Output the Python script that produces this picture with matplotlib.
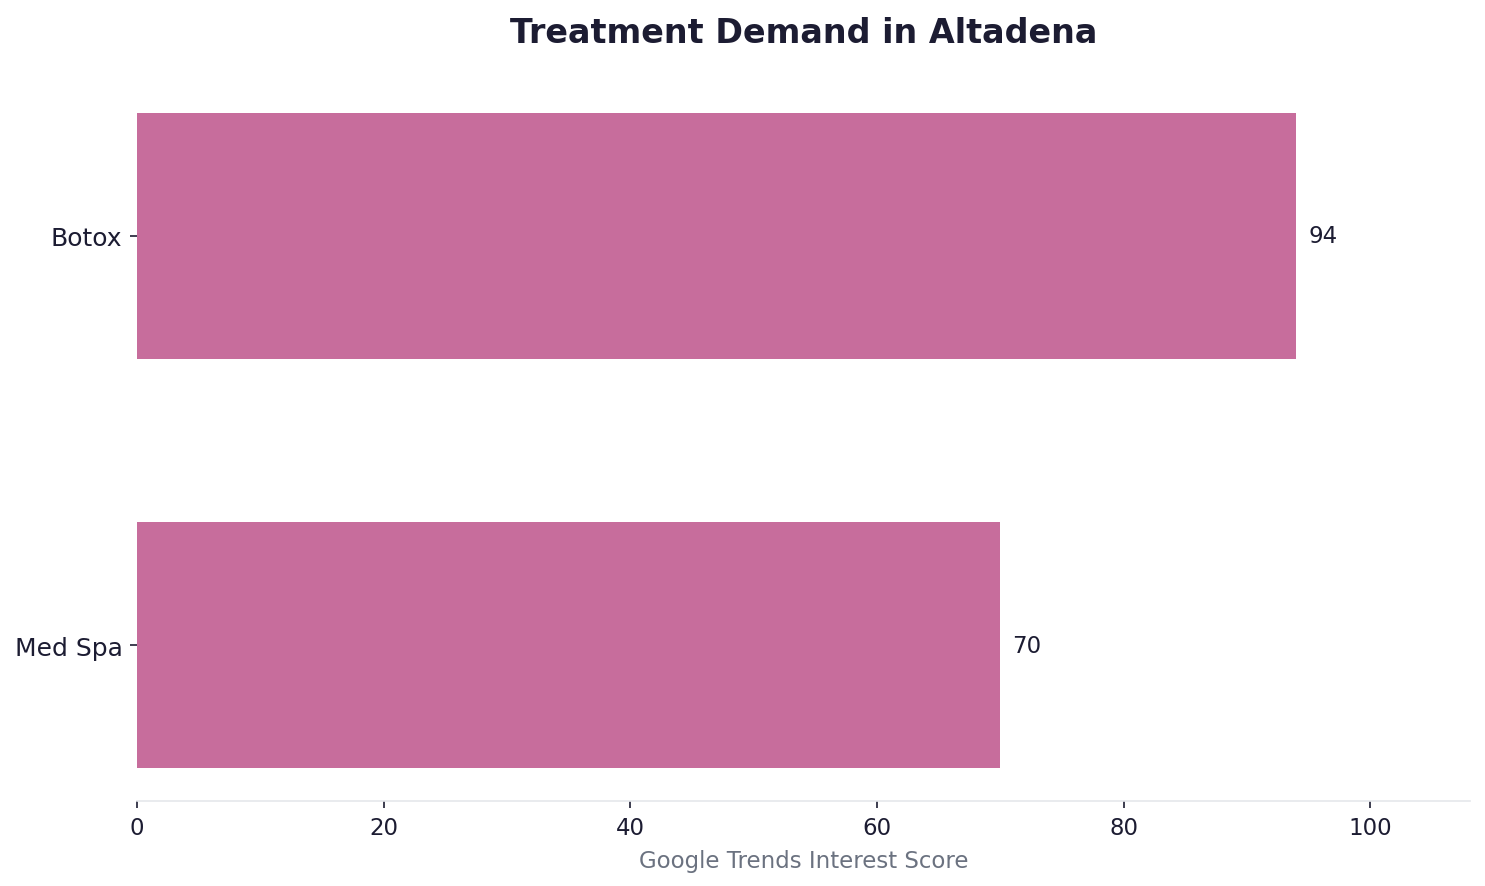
import matplotlib
matplotlib.use("Agg")
import matplotlib.pyplot as plt

# Дані
treatments = ["Botox", "Med Spa"]
scores = [94, 70]

bar_color = "#C76D9C"
text_color = "#1C1C32"

fig, ax = plt.subplots(figsize=(9.9, 5.913), dpi=150)
fig.subplots_adjust(left=0.0923, right=0.9899, bottom=0.0958, top=0.9087)

bars = ax.barh(treatments, scores, height=0.6, color=bar_color)
ax.invert_yaxis()
ax.set_xlim(0, max(scores) * 1.15)

for bar, val in zip(bars, scores):
    ax.text(bar.get_width() + 1, bar.get_y() + bar.get_height() / 2, f"{val}",
            va="center", ha="left", fontsize=11, color=text_color)

ax.set_title("Treatment Demand in Altadena", fontsize=16, fontweight="bold",
             color=text_color, pad=18)
ax.set_xlabel("Google Trends Interest Score", fontsize=11, color="#6B7280",
              labelpad=5)

for s in ["top", "right", "left"]:
    ax.spines[s].set_visible(False)
ax.spines["bottom"].set_color("#E5E7EB")
ax.tick_params(axis="x", colors=text_color, labelsize=11)
ax.tick_params(axis="y", colors=text_color, labelsize=12)

fig.savefig("out.png", dpi=150)
